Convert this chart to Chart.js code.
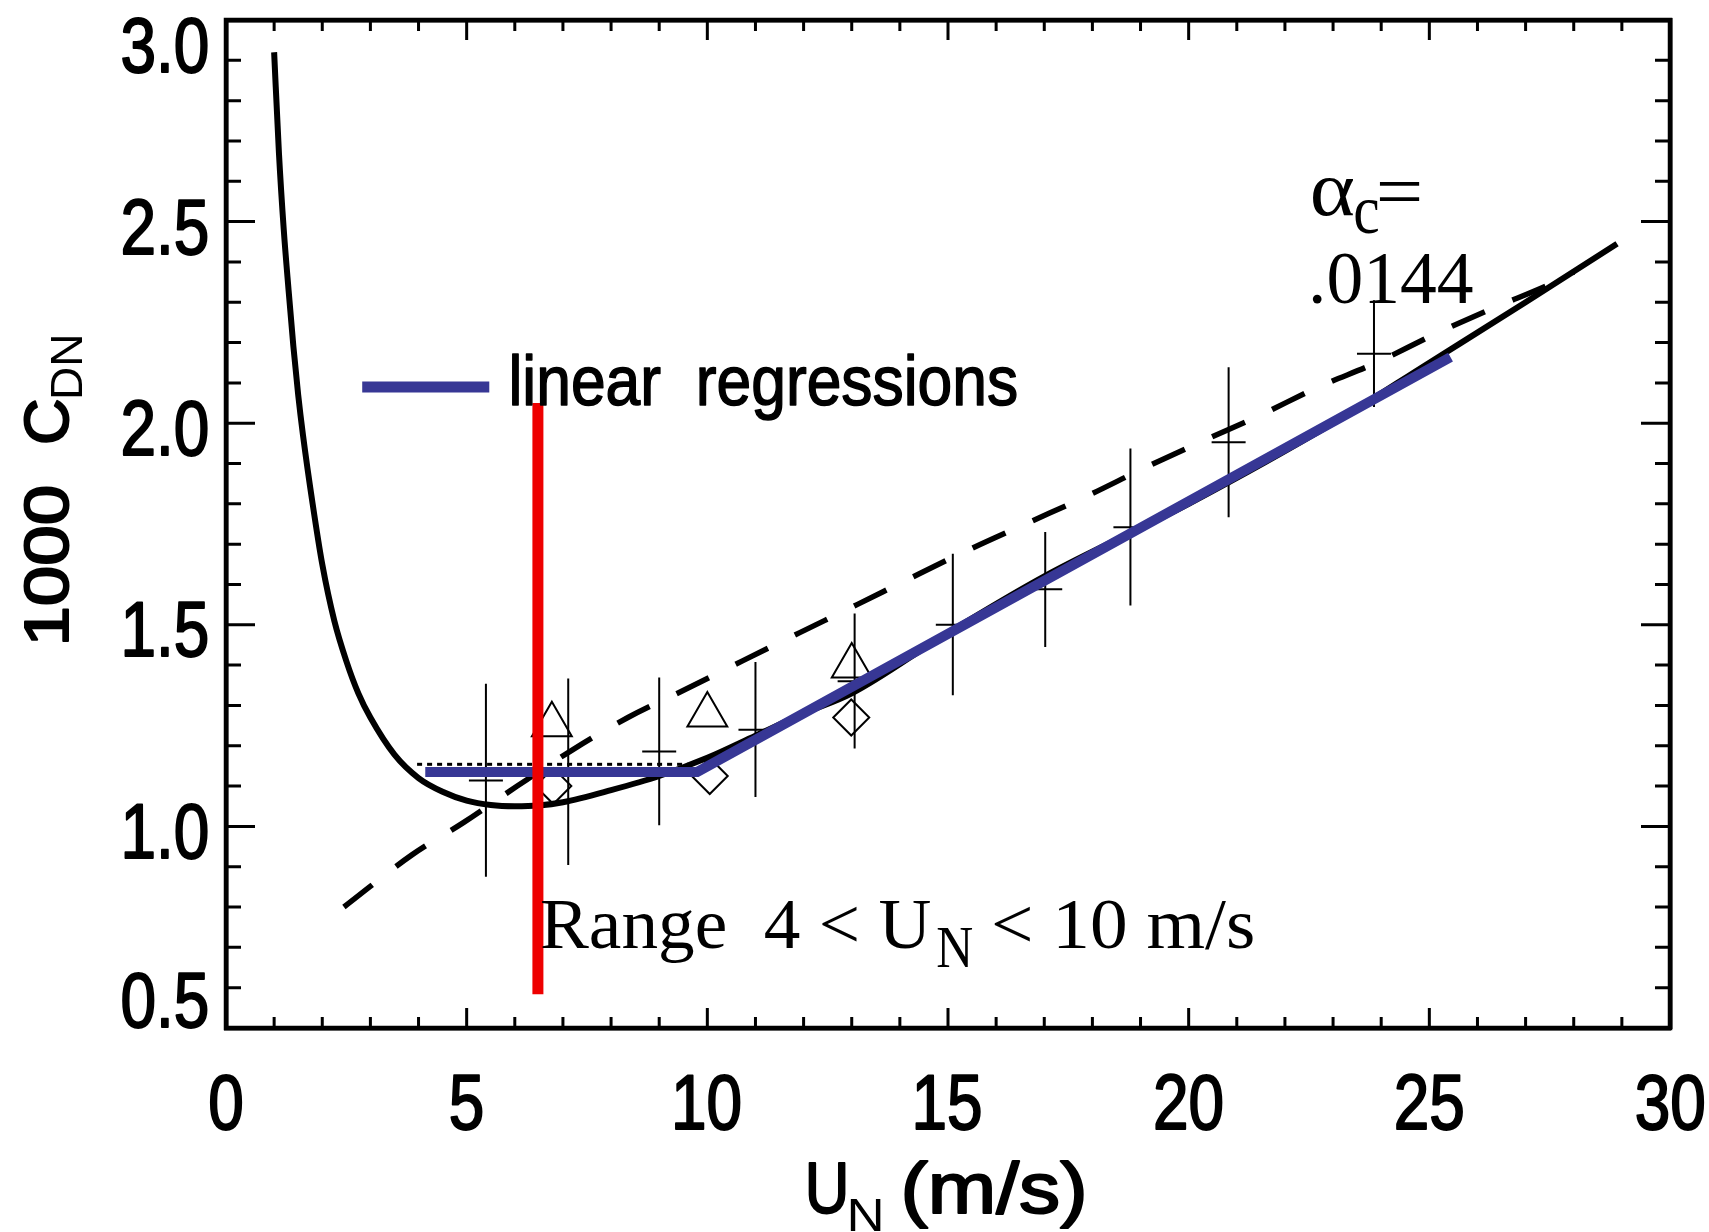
<!DOCTYPE html>
<html>
<head>
<meta charset="utf-8">
<title>1000 C_DN against U_N</title>
<script src="https://cdn.jsdelivr.net/npm/chart.js@4.4.1/dist/chart.umd.min.js"></script>
<style>
  html, body { margin: 0; padding: 0; background: #fff; }
  #wrap { width: 1709px; height: 1232px; }
</style>
</head>
<body>
<div id="wrap"><canvas id="cd" width="1709" height="1232"></canvas></div>
<script>
// neutral drag coefficient vs neutral wind speed

// solid bulk curve
const curveU = [1.0, 1.1, 1.2, 1.3, 1.4, 1.5, 1.6, 1.8, 2.0, 2.25, 2.5, 2.75, 3.0, 3.5, 4.0, 4.5,
  5.0, 5.5, 6.0, 6.5, 7.0, 8.0, 9.0, 10.0, 11.0, 12.0, 13.0, 15.0, 17.0, 20.0, 23.0, 25.0, 27.0, 28.9];
const curveV = [2.92, 2.67, 2.48, 2.33, 2.19, 2.07, 1.97, 1.80, 1.65, 1.51, 1.41, 1.33, 1.27, 1.178, 1.12, 1.086,
  1.064, 1.053, 1.05, 1.052, 1.06, 1.09, 1.125, 1.17, 1.225, 1.28, 1.33, 1.48, 1.62, 1.80, 2.00, 2.15, 2.30, 2.445];

// dashed curve
const dashU = [2.45, 3.87, 4.94, 6.05, 7.2, 8.35, 9.55, 10.72, 11.91, 13.11, 14.29, 15.5, 16.7,
  17.9, 19.1, 20.28, 21.49, 22.7, 23.9, 25.1, 26.32, 27.6, 28.0];
const dashV = [0.80, 0.93, 1.01, 1.10, 1.19, 1.27, 1.34, 1.41, 1.48, 1.55, 1.62, 1.69, 1.755,
  1.82, 1.89, 1.955, 2.02, 2.09, 2.15, 2.22, 2.285, 2.35, 2.375];

// short dotted level
const dotU = [3.97, 9.6];
const dotV = [1.154, 1.154];

// linear regressions (blue)
const regU = [4.14, 9.79, 25.44];
const regV = [1.135, 1.135, 2.164];
const legendU = [2.83, 5.47];
const legendV = [2.09, 2.09];

// red range marker
const rangeU = [6.48, 6.48];
const rangeV = [0.584, 2.05];

// bin means with error bars
const plusU = [5.40, 7.11, 9.00, 11.00, 13.06, 15.10, 17.02, 18.79, 20.83, 23.85];
const plusC = [1.114, 1.135, 1.186, 1.240, 1.360, 1.500, 1.588, 1.742, 1.953, 2.172];
const plusLo = [0.875, 0.904, 1.003, 1.073, 1.193, 1.325, 1.445, 1.548, 1.767, 2.040];
const plusHi = [1.354, 1.367, 1.369, 1.408, 1.528, 1.676, 1.730, 1.937, 2.139, 2.305];

const triU = [6.77, 10.0, 13.0];
const triV = [1.252, 1.276, 1.398];
const diaU = [6.8, 10.05, 12.99];
const diaV = [1.10, 1.125, 1.27];

const xTickValues = [0, 5, 10, 15, 20, 25, 30];
const xTickLabels = ['0', '5', '10', '15', '20', '25', '30'];
const yTickValues = [0.5, 1.0, 1.5, 2.0, 2.5, 3.0];
const yTickLabels = ['0.5', '1.0', '1.5', '2.0', '2.5', '3.0'];

const SANS = '"Liberation Sans", Arial, sans-serif';
const SERIF = '"Liberation Serif", "Times New Roman", serif';
const BLUE = '#373795';

const pts = (us, vs) => us.map((u, i) => ({ x: u, y: vs[i] }));
const errData = plusU.flatMap((u, i) => [{ x: u, y: plusLo[i] }, { x: u, y: plusHi[i] }, { x: u, y: null }]);

// draw text so its ink box lands where asked; sx squeezes horizontally
function drawInk(ctx, text, font, ax, align, ay, vAlign, sx, stroke) {
  ctx.save();
  ctx.font = font;
  ctx.textAlign = 'left';
  ctx.textBaseline = 'alphabetic';
  const m = ctx.measureText(text);
  const inkL = -m.actualBoundingBoxLeft;
  const w = (m.actualBoundingBoxRight - inkL) * sx;
  const left = align === 'left' ? ax : align === 'right' ? ax - w : ax - w / 2;
  const base = vAlign === 'middle' ? ay + (m.actualBoundingBoxAscent - m.actualBoundingBoxDescent) / 2 : ay;
  ctx.translate(left - inkL * sx, base);
  ctx.scale(sx, 1);
  ctx.fillText(text, 0, 0);
  if (stroke) {
    ctx.lineWidth = stroke;
    ctx.lineJoin = 'round';
    ctx.strokeText(text, 0, 0);
  }
  ctx.restore();
}

function fitInk(ctx, text, font, x0, x1, ay, vAlign, stroke) {
  ctx.save();
  ctx.font = font;
  const m = ctx.measureText(text);
  ctx.restore();
  const ink = m.actualBoundingBoxRight + m.actualBoundingBoxLeft;
  drawInk(ctx, text, font, x0, 'left', ay, vAlign, (x1 - x0) / ink, stroke);
}

const frameAndText = {
  id: 'frameAndText',
  afterDraw(chart) {
    const { ctx, chartArea: a, scales: { x, y } } = chart;
    ctx.save();
    ctx.strokeStyle = '#000';
    ctx.fillStyle = '#000';
    ctx.lineWidth = 4.5;
    ctx.strokeRect(a.left, a.top, a.right - a.left, a.bottom - a.top);

    // inward ticks on all four sides
    ctx.lineWidth = 3;
    ctx.beginPath();
    x.ticks.forEach((t) => {
      const px = x.getPixelForValue(t.value);
      const len = Math.round(t.value) % 5 === 0 ? 20 : 11;
      ctx.moveTo(px, a.bottom); ctx.lineTo(px, a.bottom - len);
      ctx.moveTo(px, a.top); ctx.lineTo(px, a.top + len);
    });
    y.ticks.forEach((t) => {
      const py = y.getPixelForValue(t.value);
      const len = Math.round(t.value * 10) % 5 === 0 ? 29 : 15;
      ctx.moveTo(a.left, py); ctx.lineTo(a.left + len, py);
      ctx.moveTo(a.right, py); ctx.lineTo(a.right - len, py);
    });
    ctx.stroke();

    const tickFont = '77px ' + SANS;
    xTickValues.forEach((v, i) => {
      drawInk(ctx, xTickLabels[i], tickFont, x.getPixelForValue(v), 'center', 1129, 'base', 0.83, 2);
    });
    yTickValues.forEach((v, i) => {
      // end labels are kept inside the frame, as in the original
      const cy = Math.min(Math.max(y.getPixelForValue(v) + 5, a.top + 25), a.bottom - 28);
      drawInk(ctx, yTickLabels[i], tickFont, a.left - 19, 'right', cy, 'middle', 0.83, 2);
    });

    // x title  U_N (m/s)
    fitInk(ctx, 'U', '72px ' + SANS, 809, 845, 1213, 'base', 2);
    fitInk(ctx, 'N', '46px ' + SANS, 850, 881, 1231, 'base', 0);
    fitInk(ctx, '(m/s)', '72px ' + SANS, 905, 1083, 1213, 'base', 2);

    // y title  1000 C_DN, reading upwards
    ctx.save();
    ctx.translate(68, 642);
    ctx.rotate(-Math.PI / 2);
    fitInk(ctx, '1000', '63px ' + SANS, 0, 155, 0, 'base', 2);
    fitInk(ctx, 'C', '63px ' + SANS, 200, 242, 0, 'base', 2);
    fitInk(ctx, 'DN', '45px ' + SANS, 245, 305, 14, 'base', 0);
    ctx.restore();

    // legend text next to the blue swatch
    fitInk(ctx, 'linear  regressions', '71px ' + SANS, 512, 1016, 405, 'base', 1.5);

    // range annotation
    fitInk(ctx, 'Range  4 < U', '72.5px ' + SERIF, 542, 930, 948, 'base', 0);
    fitInk(ctx, 'N', '60px ' + SERIF, 937, 972, 967, 'base', 0);
    fitInk(ctx, '< 10 m/s', '72.5px ' + SERIF, 994, 1253, 948, 'base', 0);

    // Charnock constant
    fitInk(ctx, 'α', '78px ' + SERIF, 1312, 1354, 215, 'base', 0);
    fitInk(ctx, 'c', '70px ' + SERIF, 1355, 1378, 233, 'base', 0);
    fitInk(ctx, '=', '76px ' + SERIF, 1379, 1420, 191, 'middle', 0);
    fitInk(ctx, '.0144', '75px ' + SERIF, 1312, 1473, 303, 'base', 0);
    ctx.restore();
  },
};

const lineDs = (label, us, vs, extra) => Object.assign({
  label,
  data: pts(us, vs),
  showLine: true,
  borderColor: '#000',
  borderWidth: 2,
  pointRadius: 0,
  fill: false,
}, extra);

const markerDs = (label, us, vs, style, radius) => ({
  label,
  data: pts(us, vs),
  showLine: false,
  pointStyle: style,
  pointRadius: radius,
  pointBorderColor: '#000',
  pointBackgroundColor: 'rgba(0,0,0,0)',
  pointBorderWidth: 2,
  order: 5,
});

const edge = (position, min, max) => ({
  type: 'linear',
  position,
  min,
  max,
  display: true,
  ticks: { display: false },
  grid: { display: false, drawTicks: false },
  border: { display: true, color: '#000', width: 4.5 },
});

new Chart(document.getElementById('cd'), {
  type: 'scatter',
  data: {
    datasets: [
      lineDs('range', rangeU, rangeV, { borderColor: '#ee0000', borderWidth: 11, order: 0 }),
      lineDs('linear regressions', regU, regV, { borderColor: BLUE, borderWidth: 10, borderJoinStyle: 'miter', order: 1 }),
      lineDs('legend swatch', legendU, legendV, { borderColor: BLUE, borderWidth: 11, order: 1 }),
      lineDs('bulk formula', curveU, curveV, { borderWidth: 6, cubicInterpolationMode: 'monotone', order: 2 }),
      lineDs('dashed', dashU, dashV, { borderWidth: 5.5, borderDash: [36, 30], cubicInterpolationMode: 'monotone', order: 3 }),
      lineDs('dotted', dotU, dotV, { borderWidth: 3, borderDash: [5, 5], order: 4 }),
      { label: 'error bars', data: errData, showLine: true, spanGaps: false, borderColor: '#000', borderWidth: 2, pointRadius: 0, order: 5 },
      markerDs('bin means', plusU, plusC, 'line', 17),
      markerDs('triangles', triU, triV, 'triangle', 23),
      markerDs('diamonds', diaU, diaV, 'rectRot', 18),
    ],
  },
  options: {
    responsive: false,
    devicePixelRatio: 1,
    animation: false,
    events: [],
    layout: { autoPadding: false, padding: { left: 226, right: 39, top: 20, bottom: 204 } },
    plugins: { legend: { display: false }, tooltip: { enabled: false } },
    scales: {
      x: Object.assign(edge('bottom', 0, 30), { ticks: { display: false, stepSize: 1 } }),
      y: Object.assign(edge('left', 0.5, 3.0), { ticks: { display: false, stepSize: 0.1 } }),
      x2: edge('top', 0, 30),
      y2: edge('right', 0.5, 3.0),
    },
  },
  plugins: [frameAndText],
});
</script>
</body>
</html>
